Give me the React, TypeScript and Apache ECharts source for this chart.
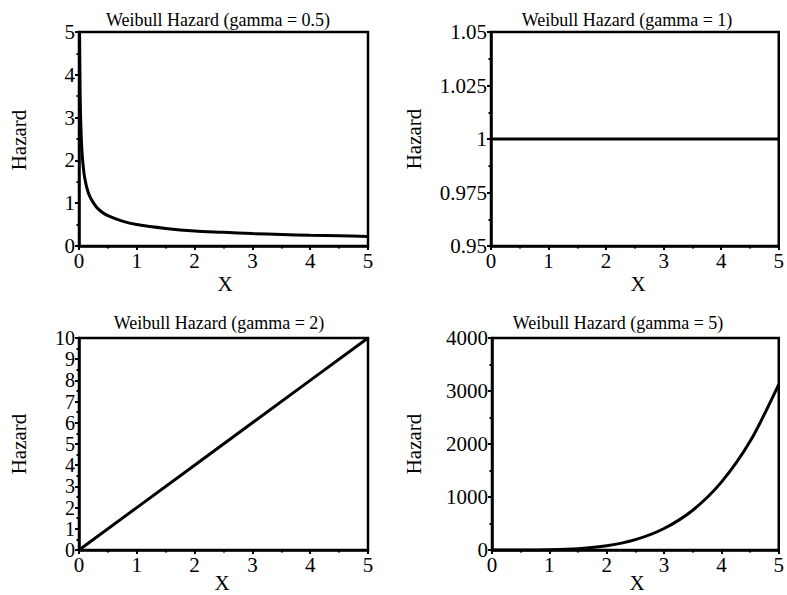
import React, { useEffect, useRef } from "react";
import * as echarts from "echarts";

const titles = [
  "Weibull Hazard (gamma = 0.5)",
  "Weibull Hazard (gamma = 1)",
  "Weibull Hazard (gamma = 2)",
  "Weibull Hazard (gamma = 5)",
];

const xHalf = [0.01, 0.02, 0.03, 0.05, 0.075, 0.1, 0.15, 0.2, 0.3, 0.4, 0.5, 0.75, 1, 1.5, 2, 2.5, 3, 3.5, 4, 4.5, 5];
const yHalf = [5, 3.54, 2.89, 2.24, 1.83, 1.58, 1.29, 1.12, 0.91, 0.79, 0.71, 0.58, 0.5, 0.41, 0.35, 0.32, 0.29, 0.27, 0.25, 0.24, 0.22];

const xOne = [0, 1, 2, 3, 4, 5];
const yOne = [1, 1, 1, 1, 1, 1];

const xTwo = [0, 1, 2, 3, 4, 5];
const yTwo = [0, 2, 4, 6, 8, 10];

const xFive = [0, 0.5, 1, 1.5, 2, 2.5, 3, 3.5, 4, 4.5, 5];
const yFive = [0, 0.3, 5, 25, 80, 195, 405, 750, 1280, 2050, 3125];

const yRanges = [
  { min: 0, max: 5, interval: 1 },
  { min: 0.95, max: 1.05, interval: 0.025 },
  { min: 0, max: 10, interval: 1 },
  { min: 0, max: 4000, interval: 1000 },
];

const xTicks = { min: 0, max: 5, interval: 1 };
const axisNameX = "X";
const axisNameY = "Hazard";

export default function App() {
  const ref = useRef<HTMLDivElement>(null);
  useEffect(() => {
    if (!ref.current) return;
    const chart = echarts.init(ref.current, undefined, { renderer: "svg" });
    const grids = [
      { left: 79, top: 32, width: 289, height: 214 },
      { left: 491, top: 32, width: 289, height: 214 },
      { left: 79, top: 338, width: 289, height: 212 },
      { left: 492, top: 338, width: 288, height: 212 },
    ];
    const fam = '"Liberation Serif"';
    const datasets = [
      [xHalf, yHalf],
      [xOne, yOne],
      [xTwo, yTwo],
      [xFive, yFive],
    ];
    const titlePos = [
      [218, 20],
      [627, 20],
      [219, 323],
      [618, 323],
    ];
    const yNamePos = [
      [19, 140],
      [414, 139],
      [19, 444],
      [414, 444],
    ];
    const xNamePos = [
      [225, 284],
      [638, 284],
      [222, 583],
      [637, 583],
    ];
    const fmt = (v: number) => String(parseFloat(v.toFixed(4)));
    const option: any = {
      animation: false,
      backgroundColor: "#ffffff",
      textStyle: { fontFamily: fam },
      grid: grids.map((g) => ({
        ...g,
        show: true,
        borderColor: "#000",
        borderWidth: 2.5,
        backgroundColor: "transparent",
        containLabel: false,
      })),
      xAxis: grids.map((_, i) => ({
        type: "value",
        gridIndex: i,
        min: xTicks.min,
        max: xTicks.max,
        interval: xTicks.interval,
        axisLine: { show: true, onZero: false, lineStyle: { color: "#000", width: 2.5 } },
        axisTick: { show: true, length: 4, lineStyle: { color: "#000", width: 2 } },
        minorTick: { show: true, splitNumber: 2, length: 2.5, lineStyle: { color: "#000", width: 2 } },
        splitLine: { show: false },
        axisLabel: { color: "#000", fontFamily: fam, fontSize: 21, lineHeight: 20, margin: 5, formatter: fmt },
      })),
      yAxis: grids.map((_, i) => ({
        type: "value",
        gridIndex: i,
        min: yRanges[i].min,
        max: yRanges[i].max,
        interval: yRanges[i].interval,
        axisLine: { show: true, onZero: false, lineStyle: { color: "#000", width: 2.5 } },
        axisTick: { show: true, length: 4, lineStyle: { color: "#000", width: 2 } },
        minorTick: { show: true, splitNumber: 2, length: 2.5, lineStyle: { color: "#000", width: 2 } },
        splitLine: { show: false },
        axisLabel: {
          color: "#000",
          fontFamily: fam,
          fontSize: i === 2 ? 20 : 21,
          lineHeight: i === 2 ? 18 : 20,
          margin: 4,
          formatter: fmt,
        },
      })),
      series: datasets.map(([xs, ys], i) => ({
        type: "line",
        xAxisIndex: i,
        yAxisIndex: i,
        data: xs.map((x, j) => [x, ys[j]]),
        showSymbol: false,
        smooth: i === 0 || i === 3 ? 0.3 : false,
        clip: true,
        lineStyle: { color: "#000", width: 3 },
      })),
      graphic: [
        ...titles.map((t, i) => ({
          type: "text",
          x: titlePos[i][0],
          y: titlePos[i][1],
          style: { text: t, fill: "#000", font: `18px ${fam}`, align: "center", verticalAlign: "middle" },
        })),
        ...yNamePos.map((p) => ({
          type: "text",
          x: p[0],
          y: p[1],
          rotation: Math.PI / 2,
          style: { text: axisNameY, fill: "#000", font: `21px ${fam}`, align: "center", verticalAlign: "middle" },
        })),
        ...xNamePos.map((p) => ({
          type: "text",
          x: p[0],
          y: p[1],
          style: { text: axisNameX, fill: "#000", font: `21px ${fam}`, align: "center", verticalAlign: "middle" },
        })),
      ],
    };
    chart.setOption(option);
    return () => chart.dispose();
  }, []);
  return (
    <div
      ref={ref}
      style={{ position: "fixed", left: 0, top: 0, width: 787, height: 595, background: "#fff" }}
    />
  );
}
